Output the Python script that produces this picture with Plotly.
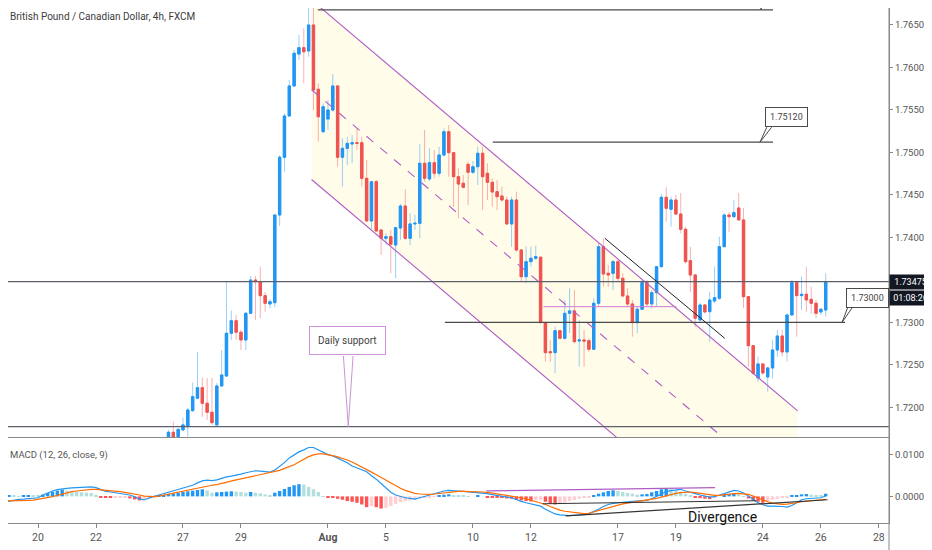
import plotly.graph_objects as go
from plotly.subplots import make_subplots

# x position = 4h candle index, 0 = first bar of Mon 20 Jul
tick_idx = [0, 12, 30, 42, 60, 72, 90, 102, 120, 132, 150, 162, 174]
tick_txt = ["20", "22", "27", "29", "<b>Aug</b>", "5", "10", "12", "17", "19", "24", "26", "28"]

# 1.73500 is hidden behind the last-price label
price_ticks = [1.72, 1.725, 1.73, 1.74, 1.745, 1.75, 1.755, 1.76, 1.765]

# GBPCAD 4h candles, first visible bar is index 27
candle_start = 27
opens = [1.71635, 1.71706, 1.71654, 1.71733, 1.71772, 1.71960, 1.72106, 1.72231, 1.72047, 1.71941,
         1.71792, 1.72251, 1.72368, 1.72871, 1.73019, 1.72883, 1.72792, 1.73106, 1.73498, 1.73478,
         1.73314, 1.73216, 1.73231, 1.74263, 1.74943, 1.75429, 1.75782, 1.76158, 1.76233, 1.76194,
         1.76500, 1.75743, 1.75244, 1.75393, 1.75499, 1.75782, 1.74943, 1.75048, 1.75099, 1.75114,
         1.75114, 1.74695, 1.74193, 1.74655, 1.74087, 1.73989, 1.74008, 1.73910, 1.74110, 1.74369,
         1.73989, 1.74158, 1.74166, 1.74872, 1.74687, 1.74879, 1.74754, 1.74970, 1.75244, 1.74997,
         1.74714, 1.74637, 1.74860, 1.74766, 1.74832, 1.74990, 1.74754, 1.74648, 1.74538, 1.74487,
         1.74440, 1.74158, 1.74440, 1.73851, 1.73537, 1.73714, 1.73754, 1.73766, 1.72996, 1.72654,
         1.72643, 1.72902, 1.72812, 1.73106, 1.73134, 1.72780, 1.72792, 1.72784, 1.72683, 1.73224,
         1.73890, 1.73577, 1.73577, 1.73714, 1.73518, 1.73310, 1.73216, 1.72996, 1.73154, 1.73467,
         1.73216, 1.73349, 1.73655, 1.74472, 1.74331, 1.74440, 1.74275, 1.74095, 1.73726, 1.73557,
         1.73028, 1.73204, 1.73125, 1.73251, 1.73283, 1.73890, 1.74263, 1.74243, 1.74346, 1.74205,
         1.73302, 1.72725, 1.72345, 1.72510, 1.72357, 1.72463, 1.72674, 1.72839, 1.72651, 1.73086,
         1.73467, 1.73314, 1.73330, 1.73271, 1.73224, 1.73122, 1.73145]
highs = [1.71733, 1.71831, 1.71741, 1.71878, 1.71992, 1.72290, 1.72654, 1.72349, 1.72345, 1.72345,
         1.72286, 1.72674, 1.73487, 1.73137, 1.73086, 1.72910, 1.73122, 1.73545, 1.73545, 1.73655,
         1.73357, 1.73275, 1.74275, 1.74970, 1.75460, 1.75852, 1.76205, 1.76382, 1.76461, 1.76708,
         1.76755, 1.75814, 1.75578, 1.75617, 1.75923, 1.75794, 1.75166, 1.75185, 1.75205, 1.75284,
         1.75185, 1.74911, 1.74655, 1.74675, 1.74099, 1.74048, 1.74087, 1.74126, 1.74393, 1.74566,
         1.74283, 1.74263, 1.75099, 1.75264, 1.75048, 1.75028, 1.75067, 1.75284, 1.75323, 1.75008,
         1.74813, 1.74734, 1.74891, 1.74899, 1.75067, 1.75067, 1.74872, 1.74695, 1.74675, 1.74597,
         1.74479, 1.74479, 1.74538, 1.73863, 1.73890, 1.73890, 1.73902, 1.73773, 1.73004, 1.72792,
         1.72949, 1.72910, 1.73263, 1.73401, 1.73381, 1.73028, 1.72910, 1.72812, 1.73283, 1.73930,
         1.73989, 1.73675, 1.73734, 1.73742, 1.73577, 1.73401, 1.73263, 1.73184, 1.73498, 1.73498,
         1.73381, 1.73663, 1.74511, 1.74589, 1.74479, 1.74499, 1.74522, 1.74126, 1.73890, 1.73569,
         1.73228, 1.73216, 1.73361, 1.73655, 1.74008, 1.74283, 1.74299, 1.74440, 1.74522, 1.74346,
         1.73310, 1.72733, 1.72596, 1.72518, 1.72478, 1.72792, 1.72910, 1.72910, 1.73106, 1.73498,
         1.73475, 1.73537, 1.73655, 1.73420, 1.73263, 1.73165, 1.73577]
lows = [1.71615, 1.71615, 1.71627, 1.71721, 1.71654, 1.71945, 1.72098, 1.71889, 1.71851, 1.71792,
        1.71780, 1.72239, 1.72357, 1.72792, 1.72792, 1.72674, 1.72674, 1.73098, 1.73028, 1.73048,
        1.73125, 1.73165, 1.73177, 1.74134, 1.74773, 1.75420, 1.75774, 1.76088, 1.75814, 1.76127,
        1.75499, 1.75126, 1.75225, 1.75264, 1.75476, 1.74832, 1.74597, 1.74852, 1.74872, 1.75028,
        1.74597, 1.74185, 1.74087, 1.74067, 1.73793, 1.73910, 1.73577, 1.73518, 1.73969, 1.73969,
        1.73910, 1.74087, 1.73989, 1.74655, 1.74663, 1.74695, 1.74714, 1.74950, 1.74714, 1.74361,
        1.74225, 1.74578, 1.74381, 1.74746, 1.74617, 1.74322, 1.74440, 1.74361, 1.74322, 1.74420,
        1.74146, 1.73890, 1.73831, 1.73478, 1.73460, 1.73655, 1.73734, 1.72989, 1.72537, 1.72537,
        1.72400, 1.72812, 1.72792, 1.72871, 1.72753, 1.72478, 1.72478, 1.72654, 1.72674, 1.73184,
        1.73420, 1.73420, 1.73381, 1.73478, 1.73302, 1.73184, 1.72831, 1.72871, 1.73145, 1.73184,
        1.73165, 1.73184, 1.73640, 1.74185, 1.74126, 1.74263, 1.74048, 1.73695, 1.73361, 1.72949,
        1.72992, 1.73106, 1.72772, 1.73224, 1.73263, 1.73887, 1.74063, 1.74228, 1.74205, 1.73169,
        1.72478, 1.72380, 1.72301, 1.72380, 1.72184, 1.72341, 1.72596, 1.72596, 1.72537, 1.73075,
        1.72831, 1.73145, 1.73125, 1.73106, 1.73048, 1.73086, 1.73066]
closes = [1.71706, 1.71635, 1.71741, 1.71792, 1.71968, 1.72125, 1.72231, 1.72047, 1.71941, 1.71819,
          1.72251, 1.72380, 1.72871, 1.73019, 1.72883, 1.72792, 1.73106, 1.73498, 1.73478, 1.73314,
          1.73224, 1.73243, 1.74263, 1.74943, 1.75429, 1.75782, 1.76167, 1.76233, 1.76185, 1.76500,
          1.75735, 1.75420, 1.75538, 1.75499, 1.75782, 1.74943, 1.75048, 1.75107, 1.75114, 1.75107,
          1.74695, 1.74193, 1.74655, 1.74075, 1.73989, 1.74008, 1.73919, 1.74114, 1.74369, 1.73989,
          1.74158, 1.74166, 1.74872, 1.74695, 1.74879, 1.74754, 1.74970, 1.75244, 1.74997, 1.74714,
          1.74628, 1.74589, 1.74766, 1.74832, 1.74990, 1.74714, 1.74648, 1.74534, 1.74479, 1.74440,
          1.74158, 1.74440, 1.73851, 1.73537, 1.73714, 1.73754, 1.73773, 1.72996, 1.72643, 1.72643,
          1.72902, 1.72812, 1.73106, 1.73134, 1.72772, 1.72792, 1.72780, 1.72683, 1.73224, 1.73890,
          1.73569, 1.73557, 1.73714, 1.73518, 1.73310, 1.73216, 1.72996, 1.73154, 1.73467, 1.73216,
          1.73349, 1.73655, 1.74472, 1.74342, 1.74440, 1.74275, 1.74095, 1.73714, 1.73557, 1.73048,
          1.73204, 1.73122, 1.73263, 1.73290, 1.73890, 1.74263, 1.74243, 1.74291, 1.74205, 1.73302,
          1.72725, 1.72400, 1.72510, 1.72404, 1.72463, 1.72674, 1.72839, 1.72651, 1.73086, 1.73467,
          1.73314, 1.73330, 1.73263, 1.73224, 1.73106, 1.73154, 1.73475]

# MACD(12, 26, close, 9), first value at index -8
macd_start = -8
macd_line = [-0.00163, -0.00138, -0.00114, -0.00089, -0.00073, -0.00065, -0.00057, -0.00049,
             -0.00033, 0.00033, 0.00089, 0.00130, 0.00163, 0.00187, 0.00195, 0.00203, 0.00211, 0.00211,
             0.00220, 0.00228, 0.00211, 0.00163, 0.00122, 0.00106, 0.00089, 0.00081, 0.00057, 0.00033,
             -0.00008, -0.00065, -0.00081, -0.00033, 0.00000, 0.00033, 0.00065, 0.00106, 0.00138,
             0.00163, 0.00195, 0.00228, 0.00268, 0.00325, 0.00374, 0.00390, 0.00382, 0.00398, 0.00439,
             0.00472, 0.00488, 0.00504, 0.00537, 0.00569, 0.00602, 0.00618, 0.00610, 0.00602, 0.00585,
             0.00634, 0.00715, 0.00813, 0.00927, 0.01008, 0.01073, 0.01122, 0.01179, 0.01179, 0.01122,
             0.01057, 0.01008, 0.00976, 0.00927, 0.00878, 0.00813, 0.00732, 0.00683, 0.00642, 0.00593,
             0.00496, 0.00415, 0.00309, 0.00211, 0.00098, 0.00033, -0.00008, -0.00033, -0.00049,
             -0.00065, -0.00033, 0.00000, 0.00033, 0.00065, 0.00106, 0.00130, 0.00146, 0.00146, 0.00130,
             0.00122, 0.00114, 0.00106, 0.00098, 0.00089, 0.00065, 0.00041, 0.00016, 0.00000, -0.00016,
             -0.00033, -0.00081, -0.00122, -0.00154, -0.00179, -0.00203, -0.00236, -0.00309, -0.00374,
             -0.00423, -0.00447, -0.00463, -0.00463, -0.00455, -0.00455, -0.00439, -0.00415, -0.00366,
             -0.00309, -0.00244, -0.00195, -0.00171, -0.00154, -0.00138, -0.00130, -0.00122, -0.00114,
             -0.00106, -0.00098, -0.00057, 0.00000, 0.00065, 0.00114, 0.00138, 0.00154, 0.00171,
             0.00130, 0.00089, 0.00065, 0.00033, 0.00008, -0.00016, -0.00008, 0.00033, 0.00081, 0.00122,
             0.00146, 0.00130, 0.00081, 0.00008, -0.00081, -0.00154, -0.00203, -0.00236, -0.00236,
             -0.00236, -0.00244, -0.00260, -0.00220, -0.00154, -0.00081, -0.00057, -0.00049, -0.00041,
             -0.00033, 0.00008]
signal_line = [-0.00114, -0.00114, -0.00114, -0.00114, -0.00114, -0.00106, -0.00098, -0.00089,
               -0.00073, -0.00057, -0.00033, -0.00008, 0.00024, 0.00057, 0.00089, 0.00114, 0.00130,
               0.00146, 0.00163, 0.00171, 0.00171, 0.00163, 0.00154, 0.00146, 0.00130, 0.00114, 0.00098,
               0.00081, 0.00057, 0.00033, 0.00008, -0.00008, -0.00008, 0.00008, 0.00033, 0.00057,
               0.00081, 0.00106, 0.00130, 0.00154, 0.00179, 0.00203, 0.00228, 0.00252, 0.00268, 0.00285,
               0.00309, 0.00341, 0.00374, 0.00398, 0.00423, 0.00447, 0.00480, 0.00504, 0.00528, 0.00545,
               0.00561, 0.00585, 0.00626, 0.00675, 0.00715, 0.00764, 0.00829, 0.00894, 0.00959, 0.01000,
               0.01024, 0.01024, 0.01008, 0.00984, 0.00951, 0.00919, 0.00878, 0.00829, 0.00772, 0.00715,
               0.00650, 0.00585, 0.00520, 0.00455, 0.00390, 0.00317, 0.00252, 0.00195, 0.00146, 0.00106,
               0.00073, 0.00057, 0.00049, 0.00049, 0.00057, 0.00073, 0.00089, 0.00106, 0.00114, 0.00122,
               0.00122, 0.00122, 0.00122, 0.00114, 0.00106, 0.00098, 0.00081, 0.00065, 0.00049, 0.00033,
               0.00008, -0.00008, -0.00033, -0.00057, -0.00089, -0.00122, -0.00154, -0.00195, -0.00244,
               -0.00293, -0.00333, -0.00358, -0.00374, -0.00390, -0.00407, -0.00415, -0.00407, -0.00374,
               -0.00341, -0.00309, -0.00276, -0.00244, -0.00203, -0.00179, -0.00163, -0.00146, -0.00130,
               -0.00114, -0.00098, -0.00081, -0.00049, -0.00016, 0.00016, 0.00041, 0.00073, 0.00089,
               0.00098, 0.00106, 0.00089, 0.00073, 0.00049, 0.00033, 0.00024, 0.00024, 0.00041, 0.00049,
               0.00065, 0.00073, 0.00065, 0.00049, 0.00008, -0.00041, -0.00089, -0.00130, -0.00163,
               -0.00187, -0.00195, -0.00187, -0.00179, -0.00154, -0.00130, -0.00114, -0.00106, -0.00098,
               -0.00081, -0.00073]
histogram = [-0.00024, -0.00016, 0.00024, 0.00024, 0.00008, 0.00024, 0.00033, 0.00033, 0.00016,
             0.00041, 0.00081, 0.00114, 0.00138, 0.00163, 0.00138, 0.00122, 0.00114, 0.00098, 0.00089,
             0.00081, 0.00041, -0.00016, -0.00033, -0.00041, -0.00033, -0.00024, -0.00016, -0.00049,
             -0.00073, -0.00098, -0.00081, -0.00049, -0.00016, 0.00016, 0.00033, 0.00057, 0.00073,
             0.00089, 0.00106, 0.00122, 0.00138, 0.00154, 0.00171, 0.00146, 0.00089, 0.00098, 0.00106,
             0.00114, 0.00122, 0.00114, 0.00106, 0.00089, 0.00106, 0.00089, 0.00073, 0.00049, 0.00033,
             0.00089, 0.00130, 0.00179, 0.00228, 0.00268, 0.00293, 0.00285, 0.00228, 0.00171, 0.00106,
             0.00008, -0.00024, -0.00033, -0.00057, -0.00081, -0.00114, -0.00130, -0.00154, -0.00195,
             -0.00260, -0.00236, -0.00260, -0.00293, -0.00276, -0.00236, -0.00179, -0.00138, -0.00114,
             -0.00098, -0.00081, -0.00049, -0.00024, -0.00016, -0.00008, 0.00024, 0.00041, 0.00049,
             0.00033, 0.00024, 0.00016, 0.00008, 0.00000, 0.00016, 0.00000, -0.00016, -0.00024, -0.00033,
             -0.00041, -0.00049, -0.00057, -0.00081, -0.00098, -0.00114, -0.00122, -0.00098, -0.00081,
             -0.00130, -0.00171, -0.00195, -0.00179, -0.00146, -0.00114, -0.00089, -0.00057, -0.00041,
             -0.00024, 0.00024, 0.00065, 0.00098, 0.00130, 0.00146, 0.00130, 0.00106, 0.00081, 0.00065,
             0.00041, 0.00049, 0.00057, 0.00098, 0.00130, 0.00171, 0.00195, 0.00179, 0.00146, 0.00114,
             0.00065, 0.00024, -0.00024, -0.00041, -0.00057, -0.00065, -0.00033, 0.00000, 0.00041,
             0.00057, 0.00065, 0.00049, 0.00008, -0.00049, -0.00098, -0.00130, -0.00154, -0.00114,
             -0.00081, -0.00057, -0.00041, -0.00033, 0.00016, 0.00033, 0.00049, 0.00057, 0.00041,
             0.00033, 0.00033, 0.00065]

# drawings (candle index, price)
channel_x = [56.6, 157.2]
channel_top = [1.76794, 1.71957]
channel_bottom = [1.74681, 1.69844]
wedge_x, wedge_y = [117.3, 142.1], [1.73989, 1.72812]
purple_x, purple_y = [104.6, 132.1], 1.73184
macd_purple_x, macd_purple_y = [92.8, 140.1], [0.00132, 0.00212]
macd_black1_x, macd_black1_y = [104.4, 148.6], [-0.00178, -0.00105]
macd_black2_x, macd_black2_y = [109.2, 163.4], [-0.00471, -0.00081]
last_price = 1.73475
full_lines = [1.7348, 1.71772]

UP, DOWN = "#2196F3", "#EF5350"
FONT = "Roboto, sans-serif"
GRAY = "#5d606b"

xs = list(range(candle_start, candle_start + len(opens)))
body_hi = [max(o, c) for o, c in zip(opens, closes)]
body_lo = [min(o, c) for o, c in zip(opens, closes)]

# the page adds an 8px body margin, so the figure is 8px smaller than the window
fig = make_subplots(rows=2, cols=1, shared_xaxes=True, vertical_spacing=0,
                    row_heights=[0.833, 0.167])

# wicks (lighter), then bodies
fig.add_trace(go.Candlestick(
    x=xs, open=opens, high=highs, low=lows, close=closes,
    increasing=dict(line=dict(color="rgba(33,150,243,0.45)", width=1), fillcolor="rgba(33,150,243,0.45)"),
    decreasing=dict(line=dict(color="rgba(239,83,80,0.45)", width=1), fillcolor="rgba(239,83,80,0.45)"),
    hoverinfo="skip"), row=1, col=1)
fig.add_trace(go.Candlestick(
    x=xs, open=opens, high=body_hi, low=body_lo, close=closes,
    increasing=dict(line=dict(color=UP, width=1), fillcolor=UP),
    decreasing=dict(line=dict(color=DOWN, width=1), fillcolor=DOWN),
    hoverinfo="skip"), row=1, col=1)

mx = list(range(macd_start, macd_start + len(histogram)))
colors = []
prev = 0
for h in histogram:
    if h >= 0:
        colors.append("#2196F3" if h > prev else "#B2DFDB")
    else:
        colors.append("#FFCDD2" if h > prev else "#FF5252")
    prev = h
fig.add_trace(go.Bar(x=mx, y=histogram, marker_color=colors, marker_line_width=0,
                     width=0.7, hoverinfo="skip"), row=2, col=1)
fig.add_trace(go.Scatter(x=mx, y=macd_line, mode="lines", line=dict(color="#2196F3", width=1.2),
                         hoverinfo="skip"), row=2, col=1)
fig.add_trace(go.Scatter(x=mx, y=signal_line, mode="lines", line=dict(color="#FF6D00", width=1.2),
                         hoverinfo="skip"), row=2, col=1)

shapes = []
# parallel channel
mid = [(a + b) / 2 for a, b in zip(channel_top, channel_bottom)]
shapes.append(dict(type="path", xref="x", yref="y", layer="below",
                   path=f"M {channel_x[0]},{channel_top[0]} L {channel_x[1]},{channel_top[1]} "
                        f"L {channel_x[1]},{channel_bottom[1]} L {channel_x[0]},{channel_bottom[0]} Z",
                   fillcolor="rgba(255,235,120,0.16)", line=dict(width=0)))
for ys, dash in [(channel_top, "solid"), (channel_bottom, "solid"), (mid, "dash")]:
    shapes.append(dict(type="line", xref="x", yref="y", x0=channel_x[0], x1=channel_x[1],
                       y0=ys[0], y1=ys[1], line=dict(color="#B05CC4", width=1.1, dash=dash)))

for lvl in full_lines:
    shapes.append(dict(type="line", xref="paper", yref="y", x0=0, x1=1, y0=lvl, y1=lvl,
                       line=dict(color=GRAY, width=1.2)))

# horizontal levels with callouts
for x0, x1, lvl in [(57.9, 152.1, 1.76677), (94.1, 152.1, 1.7512), (84.2, 167.0, 1.7300)]:
    shapes.append(dict(type="line", xref="x", yref="y", x0=x0, x1=x1, y0=lvl, y1=lvl,
                       line=dict(color="#4a4a4a", width=1.2)))
for tip_x, tip_y, b1, b2, base_y in [(149.4, 1.76677, 151.8, 152.8, 1.7688),
                                     (149.4, 1.7512, 150.8, 151.8, 1.75296),
                                     (166.4, 1.7300, 167.6, 168.6, 1.73181)]:
    shapes.append(dict(type="path", xref="x", yref="y",
                       path=f"M {b1},{base_y} L {tip_x},{tip_y} L {b2},{base_y}",
                       line=dict(color="#4a4a4a", width=1)))

shapes.append(dict(type="line", xref="x", yref="y", x0=wedge_x[0], x1=wedge_x[1],
                   y0=wedge_y[0], y1=wedge_y[1], line=dict(color="#222", width=1)))
shapes.append(dict(type="line", xref="x", yref="y", x0=purple_x[0], x1=purple_x[1],
                   y0=purple_y, y1=purple_y, line=dict(color="#CE7BDA", width=1)))

# daily support pointer
shapes.append(dict(type="path", xref="x", yref="y",
                   path="M 63.2,1.72604 L 64.2,1.71772 L 65.2,1.72604",
                   line=dict(color="#CE93D8", width=1)))

# MACD drawings
shapes.append(dict(type="line", xref="x2", yref="y2", x0=macd_purple_x[0], x1=macd_purple_x[1],
                   y0=macd_purple_y[0], y1=macd_purple_y[1], line=dict(color="#B05CC4", width=1.2)))
for bx, by in [(macd_black1_x, macd_black1_y), (macd_black2_x, macd_black2_y)]:
    shapes.append(dict(type="line", xref="x2", yref="y2", x0=bx[0], x1=bx[1], y0=by[0], y1=by[1],
                       line=dict(color="#333", width=1.2)))

# price scale border running down to the bottom edge
shapes.append(dict(type="line", xref="paper", yref="paper", x0=1, x1=1, y0=-0.06, y1=1,
                   line=dict(color="#888", width=1)))

annotations = [
    dict(text="British Pound / Canadian Dollar, 4h, FXCM", xref="paper", yref="paper",
         x=0.0, y=0.984, xanchor="left", yanchor="middle", showarrow=False,
         font=dict(family=FONT, size=10, color="#3c3c3c")),
    dict(text="MACD (12, 26, close, 9)", xref="paper", yref="paper",
         x=0.0, y=0.132, xanchor="left", yanchor="middle", showarrow=False,
         font=dict(family=FONT, size=9.5, color="#555")),
    dict(text="1.75120", xref="x", yref="y", x=154.9, y=1.75417, showarrow=False,
         bordercolor="#4a4a4a", borderwidth=1, borderpad=4, bgcolor="white",
         font=dict(family=FONT, size=9, color="#444")),
    dict(text="1.73000", xref="x", yref="y", x=171.6, y=1.73292, showarrow=False,
         bordercolor="#4a4a4a", borderwidth=1, borderpad=4, bgcolor="white",
         font=dict(family=FONT, size=9, color="#444")),
    dict(text="Daily support", xref="x", yref="y", x=64.1, y=1.72781, showarrow=False,
         bordercolor="#CE93D8", borderwidth=1, borderpad=8, bgcolor="white",
         font=dict(family=FONT, size=10, color="#444")),
    dict(text="Divergence", xref="x2", yref="y2", x=141.6, y=-0.00495, showarrow=False,
         font=dict(family=FONT, size=14, color="#111")),
    dict(text="1.73475", xref="paper", yref="y", x=1.0, y=last_price, xanchor="left",
         showarrow=False, bgcolor="#131722", borderpad=2, width=37,
         font=dict(family=FONT, size=9, color="white")),
    dict(text="01:08:26", xref="paper", yref="y", x=1.0, y=1.73282, xanchor="left",
         showarrow=False, bgcolor="#131722", borderpad=2, width=37,
         font=dict(family=FONT, size=9, color="white")),
]

fig.update_layout(
    width=924, height=542, margin=dict(l=0, r=43, t=0, b=27),
    paper_bgcolor="white", plot_bgcolor="white", showlegend=False,
    shapes=shapes, annotations=annotations,
    font=dict(family=FONT, size=10, color="#555"),
)
fig.update_xaxes(range=[-6.21, 176.1], showgrid=False, zeroline=False, showline=True,
                 linecolor="#888", linewidth=1, rangeslider_visible=False)
fig.update_xaxes(tickvals=tick_idx, ticktext=tick_txt, ticks="outside", ticklen=4,
                 tickcolor="#888", tickfont=dict(family=FONT, size=10.5, color="#555"), row=2, col=1)
fig.update_yaxes(side="right", showgrid=False, zeroline=False, showline=True, linecolor="#888",
                 ticks="outside", ticklen=3, tickcolor="#888",
                 tickfont=dict(family=FONT, size=9.5, color="#555"))
fig.update_yaxes(range=[1.7165, 1.76700], tickvals=price_ticks, tickformat=".5f", row=1, col=1)
fig.update_yaxes(range=[-0.00642, 0.01432], tickvals=[0, 0.01], tickformat=".5f", row=2, col=1)

fig.write_html("out.html")
